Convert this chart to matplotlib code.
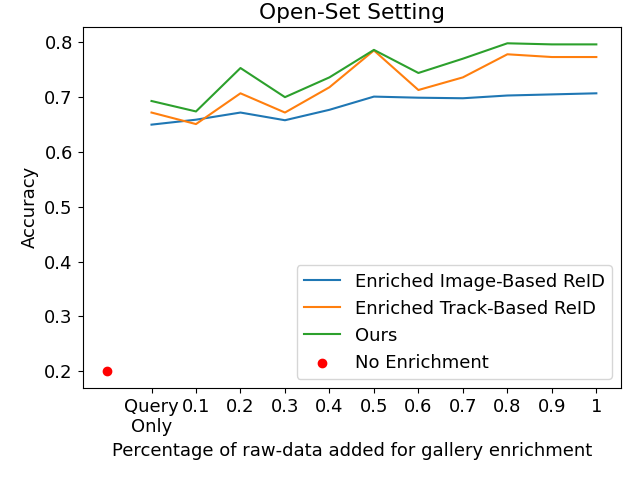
import matplotlib
matplotlib.use('Agg')
import matplotlib.pyplot as plt

# Tick labels along the x axis (position 0 holds the no-enrichment baseline)
x_labels = ['Query\nOnly', '0.1', '0.2', '0.3', '0.4', '0.5', '0.6', '0.7', '0.8', '0.9', '1']
x_pos = list(range(1, len(x_labels) + 1))

image_based = [0.649, 0.658, 0.671, 0.657, 0.676, 0.700, 0.698, 0.697, 0.702, 0.704, 0.706]
track_based = [0.671, 0.650, 0.706, 0.671, 0.717, 0.784, 0.712, 0.735, 0.777, 0.772, 0.772]
ours = [0.692, 0.673, 0.752, 0.699, 0.735, 0.785, 0.743, 0.769, 0.797, 0.795, 0.795]

no_enrichment_x = [0]
no_enrichment_y = [0.2]

fig, ax = plt.subplots(figsize=(6.4, 4.8), dpi=100)
ax.plot(x_pos, image_based, label='Enriched Image-Based ReID')
ax.plot(x_pos, track_based, label='Enriched Track-Based ReID')
ax.plot(x_pos, ours, label='Ours')
ax.scatter(no_enrichment_x, no_enrichment_y, color='red', label='No Enrichment')

ax.set_xticks(x_pos)
ax.set_xticklabels(x_labels, fontsize=13)
ax.tick_params(axis='y', labelsize=13)
ax.set_xlabel('Percentage of raw-data added for gallery enrichment', fontsize=13)
ax.set_ylabel('Accuracy', fontsize=13)
ax.set_title('Open-Set Setting', fontsize=15.6)
ax.legend(loc='lower right', fontsize=13)

fig.subplots_adjust(left=0.129, right=0.970, top=0.944, bottom=0.192)
plt.savefig('out.png')
